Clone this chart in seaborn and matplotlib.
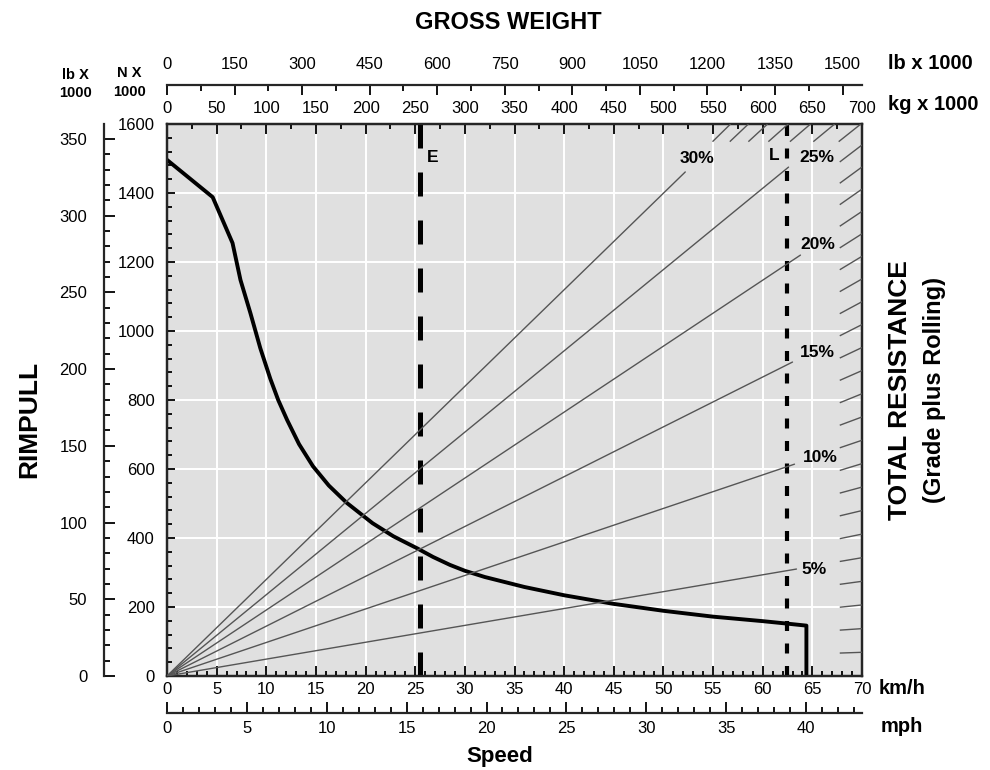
import matplotlib
matplotlib.use("Agg")
import matplotlib.pyplot as plt
import numpy as np
import pandas as pd
import seaborn as sns
from matplotlib.ticker import MultipleLocator

# rimpull curve (speed km/h, rimpull kN)
speed_kmh = [0, 4.6, 6.6, 7.4, 8.4, 9.4, 10.4, 11.2, 12.1, 13.3, 14.7, 16.3,
             18.1, 20.7, 22.8, 25.2, 26.8, 28.5, 30, 32, 36, 40, 45, 50, 55,
             60, 62.4, 64.4, 64.4]
rimpull_kn = [1496, 1388, 1255, 1148, 1052, 950, 862, 800, 742, 672, 608, 552,
              502, 443, 405, 370, 345, 322, 305, 287, 258, 234, 209, 189, 172,
              159, 152, 146, 0]

# labelled total resistance lines: end point of each line (t, kN) and label spot
grade_labels = ["5%", "10%", "15%", "20%", "25%", "30%"]
grade_end_t = [634, 632, 630, 638, 626, 522]
grade_end_kn = [310, 614, 910, 1220, 1475, 1461]
grade_label_t = [652, 658, 655, 655, 655, 534]
grade_label_kn = [310, 632, 939, 1252, 1504, 1499]

# 1% step marks along the right / top edge
grade_ticks = [1, 2, 3, 4, 5, 6, 7, 8, 9, 10, 11, 12, 13, 14, 15, 16, 17, 18,
               19, 20, 21, 22, 23, 24, 25, 26, 27, 28, 29, 30]

# E and L speed markers (km/h)
marker_names = ["E", "L"]
marker_speed = [25.5, 62.4]

# tick values of the extra scales
lb_weight_ticks = [0, 150, 300, 450, 600, 750, 900, 1050, 1200, 1350, 1500]
mph_ticks = [0, 5, 10, 15, 20, 25, 30, 35, 40]
lb_rimpull_ticks = [0, 50, 100, 150, 200, 250, 300, 350]

KG_TO_LB = 2.2046
LB_TO_N = 4.448
MPH_TO_KMH = 1.609

sns.set_style("ticks")
plt.rcParams["font.family"] = ["Liberation Sans", "DejaVu Sans"]
plt.rcParams["text.color"] = "black"
COND = ["Liberation Sans Narrow", "Liberation Sans", "DejaVu Sans"]

fig = plt.figure(figsize=(9.9, 7.7), dpi=100)
ax = fig.add_axes([167 / 990, 94 / 770, 695 / 990, 552 / 770])
ax.set_facecolor("#e0e0e0")
ax.set_xlim(0, 70)
ax.set_ylim(0, 1600)
ax.grid(True, color="white", lw=1.4)
ax.set_axisbelow(True)

ax.xaxis.set_major_locator(MultipleLocator(5))
ax.xaxis.set_minor_locator(MultipleLocator(1))
ax.yaxis.set_major_locator(MultipleLocator(200))
ax.yaxis.set_minor_locator(MultipleLocator(40))
ax.tick_params(which="both", direction="in", top=False, right=False,
               labelsize=12, width=1.3, colors="black")
ax.tick_params(axis="x", which="major", length=7, pad=4)
ax.tick_params(axis="y", which="major", length=6, pad=9)
ax.tick_params(which="minor", length=3.5)
for s in ax.spines.values():
    s.set_linewidth(1.6)
    s.set_color("black")

# rimpull curve
curve = pd.DataFrame({"speed": speed_kmh, "rimpull": rimpull_kn})
sns.lineplot(data=curve, x="speed", y="rimpull", sort=False, estimator=None,
             color="black", lw=2.8, ax=ax, zorder=5)
ax.set_xlabel("")
ax.set_ylabel("")

# E / L markers
ax.axvline(marker_speed[0], color="black", lw=3.6, linestyle=(0, (4.8, 4.8)), zorder=6)
ax.axvline(marker_speed[1], color="black", lw=3.0, linestyle=(0, (2.4, 3.0)), zorder=6)
ax.text(marker_speed[0] + 0.7, 1504, marker_names[0], fontsize=12.5,
        fontweight="bold", ha="left", va="center")
ax.text(marker_speed[1] - 0.7, 1510, marker_names[1], fontsize=12.5,
        fontweight="bold", ha="right", va="center")

# gross weight axis (kg x 1000) on top
ax_w = ax.twiny()
ax_w.set_xlim(0, 700)
ax_w.xaxis.set_major_locator(MultipleLocator(50))
ax_w.xaxis.set_minor_locator(MultipleLocator(25))
ax_w.tick_params(axis="x", which="both", direction="in", top=True, bottom=False,
                 labelsize=12, width=1.3, pad=6, colors="black")
ax_w.tick_params(axis="x", which="major", length=7)
ax_w.tick_params(axis="x", which="minor", length=3.5)
for s in ax_w.spines.values():
    s.set_linewidth(1.6)

for t_end, f_end in zip(grade_end_t, grade_end_kn):
    ax_w.plot([0, t_end], [0, f_end], color="#555555", lw=1.0, zorder=3)
for lab, lt, lf in zip(grade_labels, grade_label_t, grade_label_kn):
    ax_w.text(lt, lf, lab, fontsize=12.5, fontweight="bold", ha="center", va="center")

for g in grade_ticks:
    slope = 9.81 * np.sin(np.arctan(g / 100))  # kN per tonne
    t_exit = min(700, 1600 / slope)
    t0 = t_exit * 0.968
    ax_w.plot([t0, t_exit], [t0 * slope, t_exit * slope], color="#555555",
              lw=1.0, zorder=3, solid_capstyle="butt")

# lb x 1000 gross weight scale
lb_top = ax_w.secondary_xaxis(1.0707, functions=(lambda k: k * KG_TO_LB,
                                                 lambda l: l / KG_TO_LB))
lb_top.set_xticks(lb_weight_ticks)
lb_top.set_xticks([v + 75 for v in lb_weight_ticks[:-1]], minor=True)
lb_top.tick_params(which="both", direction="in", labelsize=12, width=1.3, pad=9,
                   colors="black")
lb_top.tick_params(which="major", length=7)
lb_top.tick_params(which="minor", length=4)
for s in lb_top.spines.values():
    s.set_linewidth(1.6)

# mph scale under km/h
mph = ax.secondary_xaxis(-0.067, functions=(lambda v: v / MPH_TO_KMH,
                                            lambda m: m * MPH_TO_KMH))
mph.set_xticks(mph_ticks)
mph.set_xticks([m + k for m in mph_ticks for k in (1, 2, 3, 4) if m + k < 43.5],
               minor=True)
mph.tick_params(which="both", direction="in", labelsize=12, width=1.3, pad=6,
                colors="black")
mph.tick_params(which="major", length=8)
mph.tick_params(which="minor", length=4)
for s in mph.spines.values():
    s.set_linewidth(1.6)

# lb x 1000 rimpull scale on the left
lb_left = ax.secondary_yaxis(-0.0906, functions=(lambda n: n / LB_TO_N,
                                                 lambda l: l * LB_TO_N))
lb_left.set_yticks(lb_rimpull_ticks)
lb_left.set_yticks([v + k for v in lb_rimpull_ticks for k in (10, 20, 30, 40)
                    if v + k < 359], minor=True)
lb_left.tick_params(which="both", direction="in", labelsize=12, width=1.3, pad=12,
                    colors="black")
lb_left.tick_params(which="major", length=8)
lb_left.tick_params(which="minor", length=4)
for s in lb_left.spines.values():
    s.set_linewidth(1.6)

# titles and unit labels
fig.text(0.513, 0.971, "GROSS WEIGHT", family=COND, fontweight="bold",
         fontsize=17, ha="center", va="center")
fig.text(0.505, 0.017, "Speed", fontweight="bold", fontsize=16,
         ha="center", va="center")
fig.text(0.030, 0.455, "RIMPULL", family=COND, fontweight="bold", fontsize=19,
         rotation=90, ha="center", va="center")
fig.text(0.909, 0.494, "TOTAL RESISTANCE", family=COND, fontweight="bold",
         fontsize=19, rotation=90, ha="center", va="center")
fig.text(0.944, 0.494, "(Grade plus Rolling)", family=COND, fontweight="bold",
         fontsize=17, rotation=90, ha="center", va="center")
fig.text(0.897, 0.918, "lb x 1000", family=COND, fontweight="bold",
         fontsize=14.5, ha="left", va="center")
fig.text(0.897, 0.864, "kg x 1000", family=COND, fontweight="bold",
         fontsize=14.5, ha="left", va="center")
fig.text(0.888, 0.106, "km/h", family=COND, fontweight="bold",
         fontsize=14.5, ha="left", va="center")
fig.text(0.890, 0.056, "mph", family=COND, fontweight="bold",
         fontsize=14.5, ha="left", va="center")
fig.text(0.076, 0.903, "lb X", fontweight="bold", fontsize=10.5,
         ha="center", va="center")
fig.text(0.076, 0.879, "1000", fontweight="bold", fontsize=10.5,
         ha="center", va="center")
fig.text(0.131, 0.905, "N X", fontweight="bold", fontsize=10.5,
         ha="center", va="center")
fig.text(0.131, 0.881, "1000", fontweight="bold", fontsize=10.5,
         ha="center", va="center")

fig.savefig("out.png", dpi=100)
